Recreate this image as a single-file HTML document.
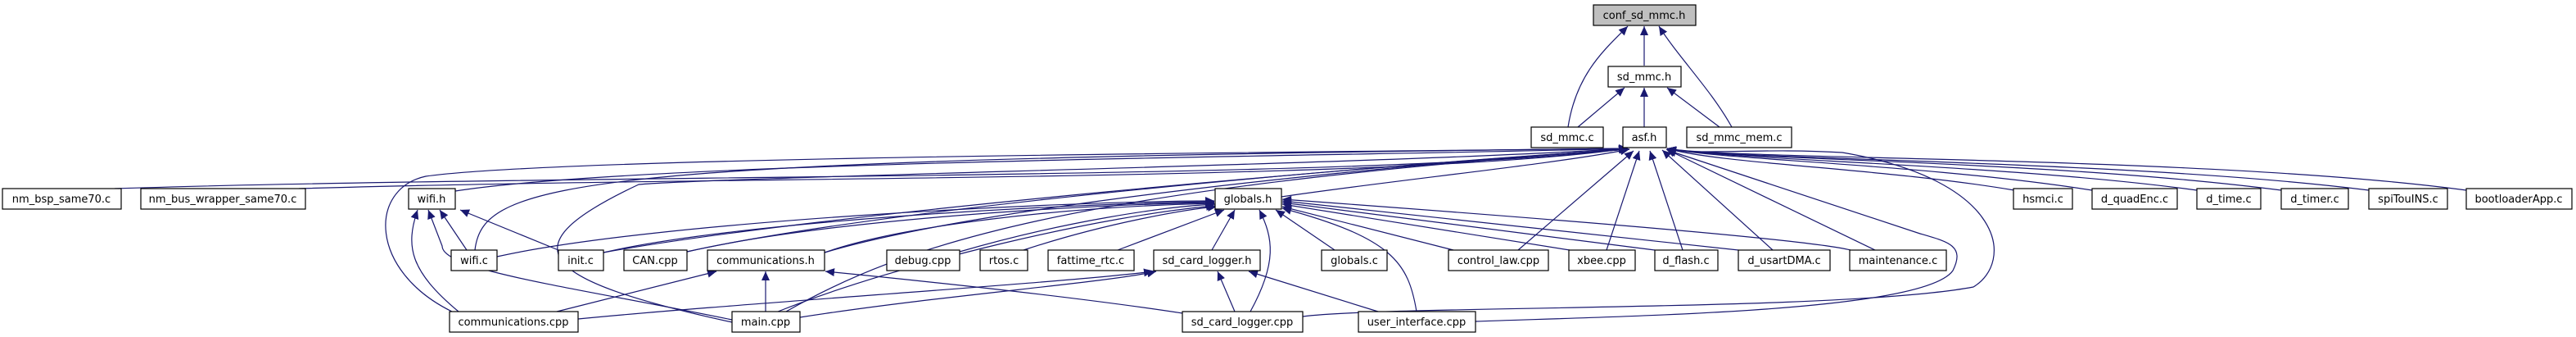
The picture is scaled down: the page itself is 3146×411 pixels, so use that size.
<!DOCTYPE html>
<html><head><meta charset="utf-8"><style>
html,body{margin:0;padding:0;background:#fff;}
svg{display:block;}
text{font-family:"DejaVu Sans","Liberation Sans",sans-serif;font-size:13px;fill:#000;text-anchor:middle;}
.n{fill:#fff;stroke:#000;stroke-width:1.2;}
.e{fill:none;stroke:#191970;stroke-width:1.2;}
</style></head><body>
<svg width="3146" height="411" viewBox="0 0 3146 411" xmlns="http://www.w3.org/2000/svg">
<defs>
<marker id="a" markerUnits="userSpaceOnUse" markerWidth="12" markerHeight="10" refX="11" refY="5" orient="auto">
<path d="M0,0 L11,5 L0,10 z" fill="#191970"/>
</marker>
</defs>
<g class="e" marker-end="url(#a)">
<!-- conf_sd_mmc.h -->
<path d="M2008,80 L2008,32"/>
<path d="M1915,155 C1925,90 1960,60 1988,32"/>
<path d="M2115,155 C2090,110 2050,70 2026,32"/>
<!-- sd_mmc.h -->
<path d="M1927,155 L1984,107"/>
<path d="M2008,155 L2008,107"/>
<path d="M2100,155 L2036,107"/>
<!-- asf.h -->
<path d="M140,230 C700,212 1700,220 1988,181"/>
<path d="M365,230 C900,214 1700,222 1988,181"/>
<path d="M556,233 C800,195 1700,190 1988,181"/>
<path d="M580,305 C590,220 700,195 1988,181"/>
<path d="M552,380 C450,330 450,230 520,215 C700,190 1700,185 1988,181"/>
<path d="M894,393 C650,340 620,300 780,225 C900,215 1700,200 1988,181"/>
<path d="M737,308 C1000,260 1700,200 1990,182"/>
<path d="M839,307 C1100,250 1700,200 1990,182"/>
<path d="M1007,308 C1200,250 1700,200 1990,182"/>
<path d="M960,380 C1100,300 1300,230 1990,182"/>
<path d="M1565,240 C1700,220 1900,200 1990,182"/>
<path d="M1854,305 L1995,184"/>
<path d="M1962,305 L2002,184"/>
<path d="M2055,305 L2015,184"/>
<path d="M2165,305 L2030,183"/>
<path d="M2290,305 L2035,182"/>
<path d="M1591,386 C1700,372 2250,380 2410,350 C2460,320 2450,220 2250,186 C2150,180 2070,190 2036,181"/>
<path d="M1802,392 C2000,385 2350,380 2385,330 C2400,300 2380,295 2345,285 L2036,183"/>
<path d="M2460,232 C2300,205 2100,200 2036,181"/>
<path d="M2555,232 C2350,200 2100,195 2036,181"/>
<path d="M2683,232 C2450,200 2100,195 2036,181"/>
<path d="M2786,232 C2500,195 2100,195 2036,181"/>
<path d="M2893,232 C2600,195 2100,195 2036,181"/>
<path d="M3012,232 C2700,190 2100,195 2036,181"/>
<!-- globals.h -->
<path d="M607,313 C800,270 1300,245 1483,245"/>
<path d="M737,308 C900,270 1300,248 1483,246"/>
<path d="M839,307 C1000,270 1300,250 1483,247"/>
<path d="M1007,308 C1100,275 1300,252 1483,248"/>
<path d="M950,380 C1100,320 1350,262 1484,251"/>
<path d="M1172,307 C1300,270 1420,252 1484,249"/>
<path d="M1250,305 C1350,272 1450,255 1486,252"/>
<path d="M1365,305 L1495,256"/>
<path d="M1480,305 L1508,256"/>
<path d="M1527,380 C1560,320 1555,290 1538,256"/>
<path d="M1630,305 L1558,256"/>
<path d="M1730,380 C1720,320 1700,290 1566,254"/>
<path d="M1775,305 L1566,252"/>
<path d="M1917,305 L1566,249"/>
<path d="M2021,305 L1566,247"/>
<path d="M2123,305 L1566,245"/>
<path d="M2260,305 C2200,290 1800,260 1566,243"/>
<!-- wifi.h -->
<path d="M570,305 L537,256"/>
<path d="M682,305 L562,256"/>
<path d="M560,380 C500,330 495,300 510,256"/>
<path d="M894,390 C700,350 540,330 540,300 L523,256"/>
<!-- communications.h -->
<path d="M680,380 L875,331"/>
<path d="M935,380 L935,331"/>
<path d="M1444,382 C1300,360 1100,340 1008,331"/>
<!-- sd_card_logger.h -->
<path d="M706,389 C900,370 1300,345 1408,331"/>
<path d="M977,387 C1150,360 1350,345 1412,331"/>
<path d="M1508,380 L1487,331"/>
<path d="M1683,380 L1525,331"/>
</g>
<g>
<rect class="n" x="1946" y="6" width="125" height="25" style="fill:#bfbfbf"/><text x="2008" y="23">conf_sd_mmc.h</text>
<rect class="n" x="1964" y="81" width="89" height="25"/><text x="2008" y="98">sd_mmc.h</text>
<rect class="n" x="1870" y="155" width="88" height="25"/><text x="1914" y="172">sd_mmc.c</text>
<rect class="n" x="1982" y="155" width="53" height="25"/><text x="2008" y="172">asf.h</text>
<rect class="n" x="2060" y="155" width="128" height="25"/><text x="2124" y="172">sd_mmc_mem.c</text>

<rect class="n" x="3" y="230" width="145" height="25"/><text x="75" y="247">nm_bsp_same70.c</text>
<rect class="n" x="172" y="230" width="201" height="25"/><text x="272" y="247">nm_bus_wrapper_same70.c</text>
<rect class="n" x="499" y="230" width="57" height="25"/><text x="527" y="247">wifi.h</text>
<rect class="n" x="1484" y="230" width="81" height="25"/><text x="1524" y="247">globals.h</text>
<rect class="n" x="2459" y="230" width="72" height="25"/><text x="2495" y="247">hsmci.c</text>
<rect class="n" x="2555" y="230" width="104" height="25"/><text x="2607" y="247">d_quadEnc.c</text>
<rect class="n" x="2683" y="230" width="78" height="25"/><text x="2722" y="247">d_time.c</text>
<rect class="n" x="2786" y="230" width="82" height="25"/><text x="2827" y="247">d_timer.c</text>
<rect class="n" x="2893" y="230" width="96" height="25"/><text x="2941" y="247">spiTouINS.c</text>
<rect class="n" x="3012" y="230" width="129" height="25"/><text x="3076" y="247">bootloaderApp.c</text>

<rect class="n" x="551" y="305" width="56" height="25"/><text x="579" y="322">wifi.c</text>
<rect class="n" x="682" y="305" width="55" height="25"/><text x="709" y="322">init.c</text>
<rect class="n" x="762" y="305" width="77" height="25"/><text x="800" y="322">CAN.cpp</text>
<rect class="n" x="864" y="305" width="143" height="25"/><text x="935" y="322">communications.h</text>
<rect class="n" x="1083" y="305" width="89" height="25"/><text x="1127" y="322">debug.cpp</text>
<rect class="n" x="1197" y="305" width="58" height="25"/><text x="1226" y="322">rtos.c</text>
<rect class="n" x="1280" y="305" width="105" height="25"/><text x="1332" y="322">fattime_rtc.c</text>
<rect class="n" x="1409" y="305" width="130" height="25"/><text x="1474" y="322">sd_card_logger.h</text>
<rect class="n" x="1614" y="305" width="80" height="25"/><text x="1654" y="322">globals.c</text>
<rect class="n" x="1769" y="305" width="122" height="25"/><text x="1830" y="322">control_law.cpp</text>
<rect class="n" x="1916" y="305" width="81" height="25"/><text x="1956" y="322">xbee.cpp</text>
<rect class="n" x="2021" y="305" width="77" height="25"/><text x="2059" y="322">d_flash.c</text>
<rect class="n" x="2123" y="305" width="112" height="25"/><text x="2179" y="322">d_usartDMA.c</text>
<rect class="n" x="2259" y="305" width="118" height="25"/><text x="2318" y="322">maintenance.c</text>

<rect class="n" x="549" y="380" width="157" height="25"/><text x="627" y="397">communications.cpp</text>
<rect class="n" x="894" y="380" width="83" height="25"/><text x="935" y="397">main.cpp</text>
<rect class="n" x="1444" y="380" width="147" height="25"/><text x="1517" y="397">sd_card_logger.cpp</text>
<rect class="n" x="1659" y="380" width="143" height="25"/><text x="1730" y="397">user_interface.cpp</text>
</g>
</svg>
</body></html>
